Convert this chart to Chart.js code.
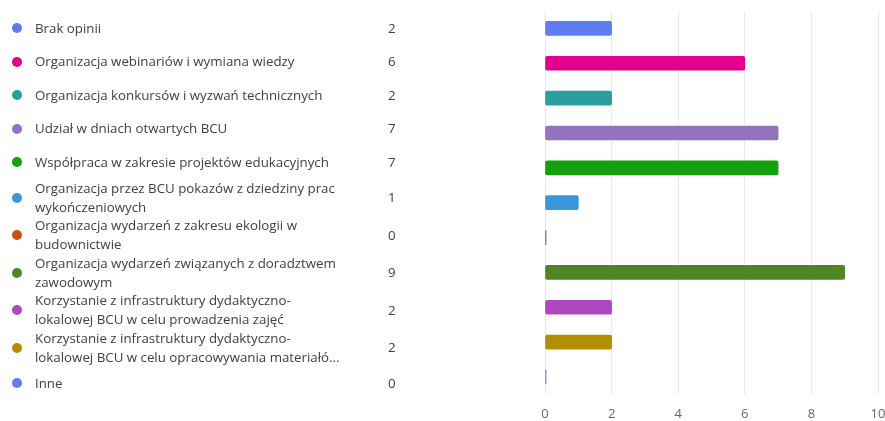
<!DOCTYPE html>
<html>
<head>
<meta charset="utf-8">
<script src="https://cdn.jsdelivr.net/npm/chart.js@4.4.1/dist/chart.umd.min.js"></script>
<style>
  html, body { margin: 0; padding: 0; background: #fff; }
  #wrap { width: 885px; height: 421px; position: relative; }
  #legend {
    position: absolute; left: 0; top: 11.25px; width: 420px;
    font-family: "Segoe UI", "Open Sans", "Noto Sans", sans-serif;
    font-size: 13.3px; color: #404040;
  }
  .item { display: flex; align-items: center; min-height: 33.5px; line-height: 18.75px; }
  .dot { width: 10px; height: 10px; border-radius: 50%; margin-left: 12px; margin-right: 13px; flex: none; }
  .label { width: 353px; flex: none; white-space: nowrap; }
  .count { flex: none; }
</style>
</head>
<body>
<div id="wrap">
  <canvas id="chart"></canvas>
  <div id="legend"></div>
</div>
<script>
// --- dane ---
const categories = [
  ['Brak opinii'],
  ['Organizacja webinariów i wymiana wiedzy'],
  ['Organizacja konkursów i wyzwań technicznych'],
  ['Udział w dniach otwartych BCU'],
  ['Współpraca w zakresie projektów edukacyjnych'],
  ['Organizacja przez BCU pokazów z dziedziny prac', 'wykończeniowych'],
  ['Organizacja wydarzeń z zakresu ekologii w', 'budownictwie'],
  ['Organizacja wydarzeń związanych z doradztwem', 'zawodowym'],
  ['Korzystanie z infrastruktury dydaktyczno-', 'lokalowej BCU w celu prowadzenia zajęć'],
  ['Korzystanie z infrastruktury dydaktyczno-', 'lokalowej BCU w celu opracowywania materiałó...'],
  ['Inne']
];
const counts = [2, 6, 2, 7, 7, 1, 0, 9, 2, 2, 0];
const colors = ['#5f7cf0', '#e3008c', '#2b9e9f', '#9373c0', '#13a10e', '#3a96dd',
                '#ca5010', '#4f8522', '#b146c2', '#b38f00', '#5f7cf0'];
const xTickMin = 0;
const xTickMax = 10;
const xTickStep = 2;

const FONT = '"Segoe UI", "Open Sans", "Noto Sans", sans-serif';

// legenda HTML po lewej (kropka, etykieta, liczba)
const legend = document.getElementById('legend');
categories.forEach((lines, i) => {
  const row = document.createElement('div');
  row.className = 'item';
  const dot = document.createElement('span');
  dot.className = 'dot';
  dot.style.background = colors[i];
  const label = document.createElement('span');
  label.className = 'label';
  lines.forEach((t, k) => {
    if (k > 0) label.appendChild(document.createElement('br'));
    label.appendChild(document.createTextNode(t));
  });
  const count = document.createElement('span');
  count.className = 'count';
  count.textContent = counts[i];
  row.append(dot, label, count);
  legend.appendChild(row);
});

new Chart(document.getElementById('chart'), {
  type: 'bar',
  data: {
    labels: categories,
    datasets: [{
      data: counts,
      backgroundColor: colors,
      borderRadius: 2,
      borderSkipped: false,
      barThickness: 14,
      minBarLength: 1
    }]
  },
  options: {
    indexAxis: 'y',
    responsive: true,
    maintainAspectRatio: false,
    animation: false,
    layout: { padding: { left: 545, top: 11, right: 0, bottom: -13 } },
    plugins: {
      legend: { display: false },
      tooltip: { enabled: false }
    },
    scales: {
      y: { display: false },
      x: {
        min: xTickMin,
        max: xTickMax,
        afterFit(scale) { scale.paddingRight = 7; },
        ticks: {
          stepSize: xTickStep,
          color: '#666',
          font: { size: 13, family: FONT },
          padding: 12
        },
        grid: { color: '#e9e9e9', drawTicks: false },
        border: { display: false }
      }
    }
  }
});
</script>
</body>
</html>
